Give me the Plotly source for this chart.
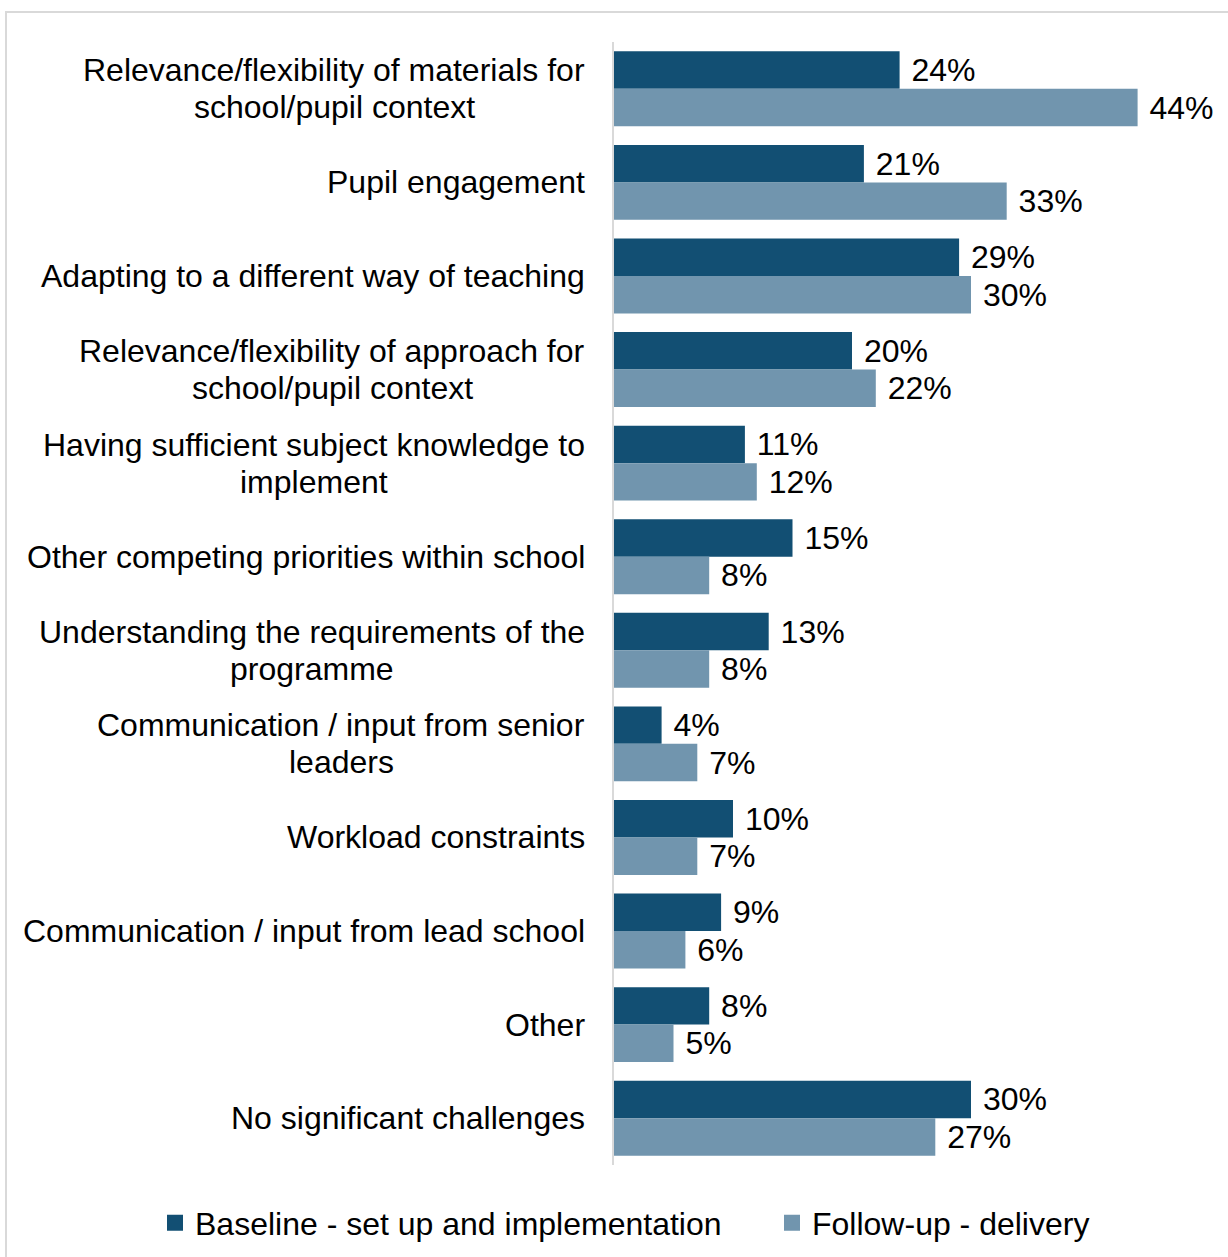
import plotly.graph_objects as go

# Reported challenges, in display order (top to bottom)
categories = [
    "Relevance/flexibility of materials for<br>school/pupil context",
    "Pupil engagement",
    "Adapting to a different way of teaching",
    "Relevance/flexibility of approach for<br>school/pupil context",
    "Having sufficient subject knowledge to<br>implement",
    "Other competing priorities within school",
    "Understanding the requirements of the<br>programme",
    "Communication / input from senior<br>leaders",
    "Workload constraints",
    "Communication / input from lead school",
    "Other",
    "No significant challenges",
]
baseline = [24, 21, 29, 20, 11, 15, 13, 4, 10, 9, 8, 30]
follow_up = [44, 33, 30, 22, 12, 8, 8, 7, 7, 6, 5, 27]

series_names = ["Baseline - set up and implementation", "Follow-up - delivery"]
series_colors = ["#124F73", "#7195AE"]

FONT = "Liberation Sans, Arial, sans-serif"
FS = 32

W, H = 1228, 1257
ML, MT = 6, 12                     # frame's left and top edges
paper_w, paper_h = W - ML, H - MT

def px_x(x):
    return (x - ML) / paper_w

def px_y(y):
    return (H - y) / paper_h

PLOT_L, PLOT_R, PLOT_T, PLOT_B = 614, 1208, 42, 1165
px_per_pct = 11.9
xmax = (PLOT_R - PLOT_L) / px_per_pct

# Advance widths (1/1000 em) of the sans-serif face, used to centre
# wrapped label lines under their first line.
ADV = {" ": 278, "/": 278, "a": 556, "b": 556, "c": 500, "d": 556, "e": 556,
       "f": 278, "g": 556, "h": 556, "i": 222, "j": 222, "k": 500, "l": 222,
       "m": 833, "n": 556, "o": 556, "p": 556, "q": 556, "r": 333, "s": 500,
       "t": 278, "u": 556, "v": 500, "w": 722, "x": 500, "y": 500, "z": 500,
       "R": 722, "H": 722, "U": 722, "C": 722}

def text_width(s):
    return sum(ADV.get(ch, 556) for ch in s) * FS / 1000.0

fig = go.Figure()
for name, vals, col in zip(series_names, [baseline, follow_up], series_colors):
    fig.add_trace(go.Bar(
        y=categories, x=vals, name=name, orientation="h",
        marker=dict(color=col, line=dict(width=0)),
        text=[f"\u00a0{v}%" for v in vals],
        textposition="outside", cliponaxis=False, constraintext="none",
        textfont=dict(family=FONT, size=FS, color="#000000"),
        hoverinfo="skip", showlegend=False,
    ))

# Legend keys: square swatches, one legend per series
for k, (name, col) in enumerate(zip(series_names, series_colors)):
    fig.add_trace(go.Scatter(
        x=[None], y=[None], mode="markers", name=name,
        marker=dict(symbol="square", size=16, color=col, line=dict(width=0)),
        legend="legend" if k == 0 else "legend2", hoverinfo="skip",
    ))

# Category labels: lines centred under the first line, block right-aligned
LABEL_RIGHT = -27     # px from the axis
LINE_H = 37
for cat in categories:
    lines = cat.split("<br>")
    n = len(lines)
    w0 = text_width(lines[0]) + 4
    for i, ln in enumerate(lines):
        ys = -(i - (n - 1) / 2) * LINE_H
        if i == 0:
            xa, xs = "right", LABEL_RIGHT
        else:
            xa, xs = "center", LABEL_RIGHT - w0 / 2
        fig.add_annotation(
            x=0, y=cat, xref="x", yref="y", text=ln, showarrow=False,
            xanchor=xa, yanchor="middle", xshift=xs, yshift=ys,
            font=dict(family=FONT, size=FS, color="#000000"),
        )

# Light grey frame around the chart area
fig.add_shape(
    type="rect", xref="paper", yref="paper",
    x0=0, x1=1.05, y0=-0.05, y1=1,
    line=dict(color="#D9D9D9", width=2), fillcolor="rgba(0,0,0,0)", layer="below",
)

legend_common = dict(
    orientation="h", xanchor="left", yanchor="middle", y=px_y(1223),
    font=dict(family=FONT, size=FS, color="#000000"),
    itemsizing="trace", bgcolor="rgba(0,0,0,0)",
)

fig.update_layout(
    width=W, height=H,
    margin=dict(l=ML, r=0, t=MT, b=0, autoexpand=False),
    paper_bgcolor="white", plot_bgcolor="white",
    barmode="group", bargap=0.2, bargroupgap=0,
    font=dict(family=FONT, size=FS, color="#000000"),
    xaxis=dict(range=[0, xmax], visible=False, fixedrange=True,
               domain=[px_x(PLOT_L), px_x(PLOT_R)]),
    yaxis=dict(
        autorange="reversed", showticklabels=False, ticks="",
        showline=True, linecolor="#D9D9D9", linewidth=2,
        showgrid=False, zeroline=False,
        domain=[px_y(PLOT_B), px_y(PLOT_T)],
    ),
    showlegend=True,
    legend=dict(x=px_x(155), **legend_common),
    legend2=dict(x=px_x(772), **legend_common),
)

fig.write_html("out.html")
